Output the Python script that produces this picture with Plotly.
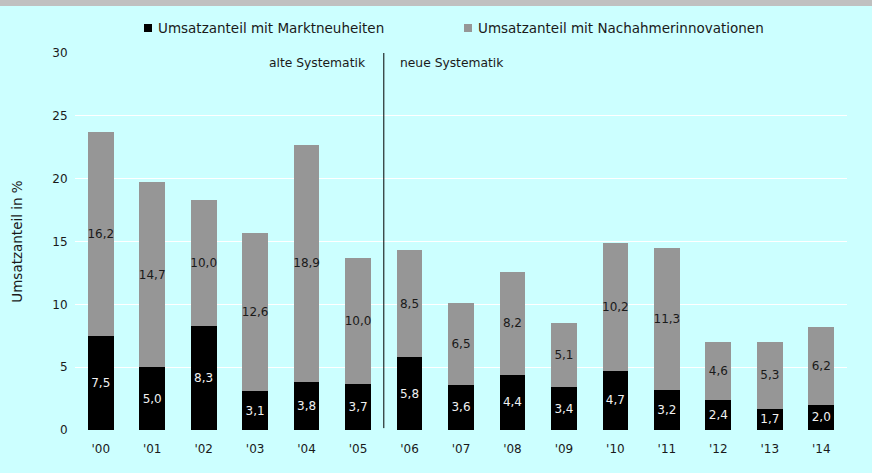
import plotly.graph_objects as go

years = ["'00", "'01", "'02", "'03", "'04", "'05", "'06", "'07", "'08", "'09", "'10", "'11", "'12", "'13", "'14"]
markt = [7.5, 5.0, 8.3, 3.1, 3.8, 3.7, 5.8, 3.6, 4.4, 3.4, 4.7, 3.2, 2.4, 1.7, 2.0]
nachahmer = [16.2, 14.7, 10.0, 12.6, 18.9, 10.0, 8.5, 6.5, 8.2, 5.1, 10.2, 11.3, 4.6, 5.3, 6.2]
y_ticks = [0, 5, 10, 15, 20, 25, 30]
name_markt = "Umsatzanteil mit Marktneuheiten"
name_nach = "Umsatzanteil mit Nachahmerinnovationen"
y_title = "Umsatzanteil in %"
label_alt = "alte Systematik"
label_neu = "neue Systematik"

def de(v):
    return f"{v:.1f}".replace(".", ",")

W, H = 872, 473
L, R, T, B = 75, 25, 53, 43
PW, PH = W - L - R, H - T - B
BG = "#CCFFFF"
FONT = "DejaVu Sans"
TXT = "#1A1A1A"

def px_x(px):
    return (px - L) / PW

def px_y(py):
    return (H - B - py) / PH

fig = go.Figure()
fig.add_trace(go.Bar(
    x=years, y=markt, name=name_markt, marker=dict(color="#000000", line=dict(width=0)),
    text=[de(v) for v in markt], textposition="inside", insidetextanchor="middle",
    constraintext="none", textangle=0,
    textfont=dict(family=FONT, size=12, color="#F0F0F0"), showlegend=False,
))
fig.add_trace(go.Bar(
    x=years, y=nachahmer, name=name_nach, marker=dict(color="#969696", line=dict(width=0)),
    text=[de(v) for v in nachahmer], textposition="inside", insidetextanchor="middle",
    constraintext="none", textangle=0,
    textfont=dict(family=FONT, size=12, color=TXT), showlegend=False,
))

shapes = [
    dict(type="rect", xref="paper", yref="paper", x0=px_x(0), x1=px_x(W), y0=px_y(6), y1=px_y(0),
         fillcolor="#C0C0C0", line=dict(width=0), layer="below"),
    dict(type="line", xref="x", yref="y", x0=5.5, x1=5.5, y0=0.15, y1=30,
         line=dict(color="#000000", width=1)),
    dict(type="rect", xref="paper", yref="paper", x0=px_x(144), x1=px_x(152), y0=px_y(32), y1=px_y(24),
         fillcolor="#000000", line=dict(width=0)),
    dict(type="rect", xref="paper", yref="paper", x0=px_x(464), x1=px_x(472), y0=px_y(32), y1=px_y(24),
         fillcolor="#969696", line=dict(width=0)),
]

annotations = [
    dict(text=name_markt, xref="paper", yref="paper", x=px_x(156), y=px_y(28), xanchor="left", yanchor="middle",
         showarrow=False, font=dict(family=FONT, size=13.5, color=TXT)),
    dict(text=name_nach, xref="paper", yref="paper", x=px_x(476), y=px_y(28), xanchor="left", yanchor="middle",
         showarrow=False, font=dict(family=FONT, size=13.5, color=TXT)),
    dict(text=label_alt, xref="x", yref="y", x=5.5, y=29.2, xanchor="right", yanchor="middle", xshift=-16,
         showarrow=False, font=dict(family=FONT, size=12.3, color=TXT)),
    dict(text=label_neu, xref="x", yref="y", x=5.5, y=29.2, xanchor="left", yanchor="middle", xshift=14,
         showarrow=False, font=dict(family=FONT, size=12.3, color=TXT)),
]

fig.update_layout(
    width=W, height=H, margin=dict(l=L, r=R, t=T, b=B, autoexpand=False),
    barmode="stack", bargap=0.5,
    paper_bgcolor=BG, plot_bgcolor=BG,
    font=dict(family=FONT, size=12, color=TXT),
    shapes=shapes, annotations=annotations, showlegend=False,
)
fig.update_xaxes(
    type="category", range=[-0.5, 14.5], showgrid=False, zeroline=False, showline=False,
    ticks="outside", ticklen=8, tickcolor="rgba(0,0,0,0)",
    tickfont=dict(family=FONT, size=12, color=TXT),
)
fig.update_yaxes(
    range=[0, 30], tickvals=y_ticks, ticktext=[str(v) for v in y_ticks],
    showgrid=True, gridcolor="#FFFFFF", gridwidth=1, zeroline=False, showline=False,
    ticks="outside", ticklen=4, tickcolor="rgba(0,0,0,0)",
    tickfont=dict(family=FONT, size=12, color=TXT),
    title=dict(text=y_title, font=dict(family=FONT, size=13.5, color=TXT), standoff=26),
)

fig.write_html(
    "out.html",
    config={"displayModeBar": False},
    post_script="document.body.style.margin='0';document.body.style.background='#CCFFFF';",
)
